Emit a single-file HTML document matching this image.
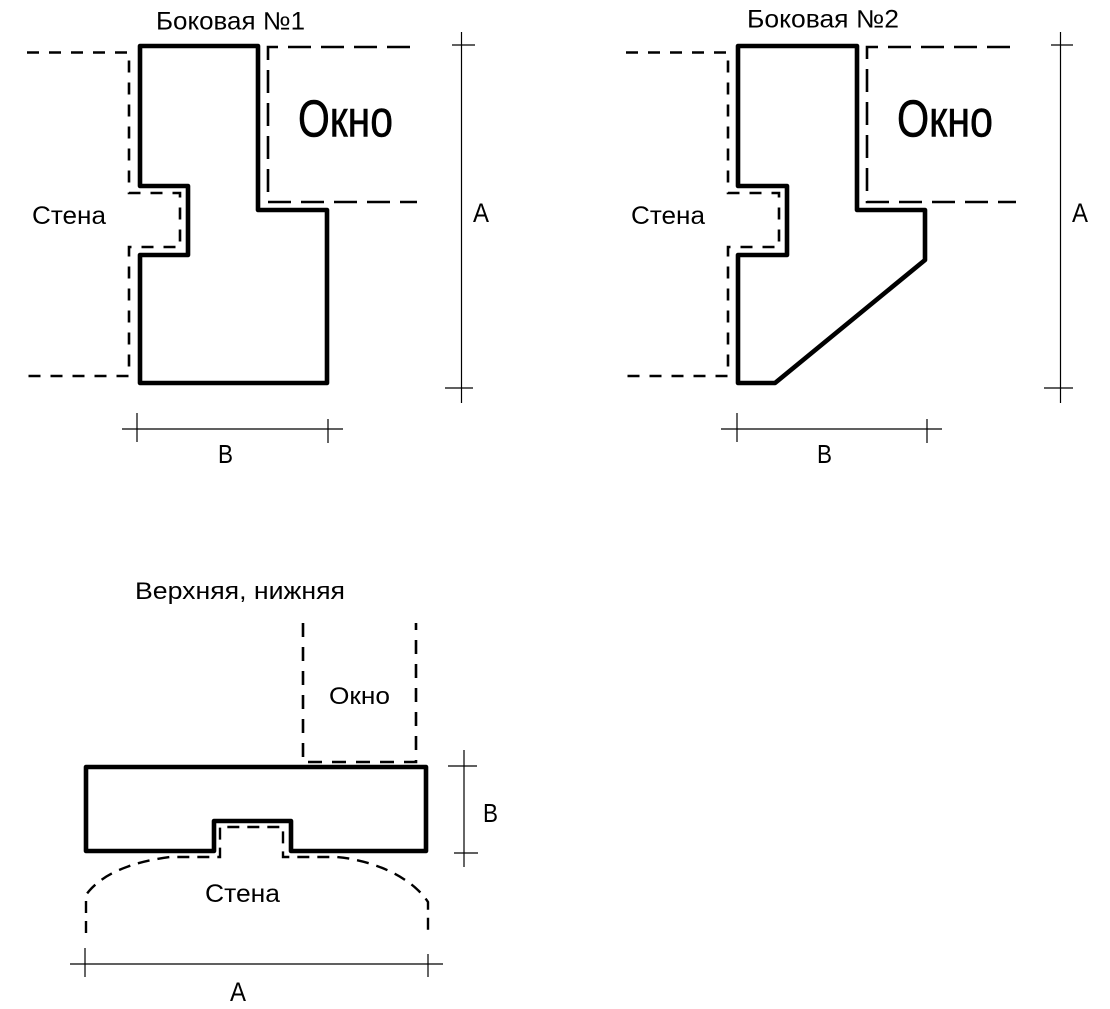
<!DOCTYPE html>
<html>
<head>
<meta charset="utf-8">
<style>
html,body{margin:0;padding:0;background:#fff;}
svg{display:block;}
text{font-family:"Liberation Sans","DejaVu Sans",sans-serif;fill:#000;}
</style>
</head>
<body>
<svg width="1110" height="1009" viewBox="0 0 1110 1009" xmlns="http://www.w3.org/2000/svg">
<rect width="1110" height="1009" fill="#fff"/>

<!-- ===== Panel 1 ===== -->
<text x="156" y="29.5" font-size="25" textLength="149" lengthAdjust="spacingAndGlyphs">Боковая №1</text>
<!-- wall dashed -->
<path d="M27,52.5 H129 V193 H180 V247 H129 V376 H27" fill="none" stroke="#000" stroke-width="2.6" stroke-dasharray="12,10"/>
<!-- window dashed -->
<path d="M418,47 H268 V202 H417" fill="none" stroke="#000" stroke-width="2.6" stroke-dasharray="23,10" stroke-dashoffset="-8"/>
<!-- thick outline -->
<path d="M140,46 H258 V210 H327 V383 H140 V255 H188 V186 H140 Z" fill="none" stroke="#000" stroke-width="4.6" stroke-linejoin="round"/>
<text x="298" y="136.5" font-size="52" textLength="95" lengthAdjust="spacingAndGlyphs" stroke="#000" stroke-width="0.6">Окно</text>
<text x="32" y="224" font-size="25" textLength="74" lengthAdjust="spacingAndGlyphs">Стена</text>
<!-- dim A -->
<g stroke="#000" stroke-width="1.2">
<line x1="461.5" y1="32" x2="461.5" y2="403"/>
<line x1="452" y1="45" x2="475" y2="45"/>
<line x1="445" y1="388" x2="473" y2="388"/>
<!-- dim B -->
<line x1="122" y1="429" x2="343" y2="429"/>
<line x1="137" y1="413" x2="137" y2="442"/>
<line x1="328" y1="419" x2="328" y2="443"/>
</g>
<text x="473" y="222" font-size="27" textLength="16" lengthAdjust="spacingAndGlyphs">A</text>
<text x="218" y="463" font-size="26" textLength="15" lengthAdjust="spacingAndGlyphs">B</text>

<!-- ===== Panel 2 ===== -->
<text x="747" y="27.5" font-size="25" textLength="152" lengthAdjust="spacingAndGlyphs">Боковая №2</text>
<path d="M626,52.5 H728 V193 H779 V247 H728 V376 H626" fill="none" stroke="#000" stroke-width="2.6" stroke-dasharray="12,10"/>
<path d="M1018,47 H867 V202 H1016" fill="none" stroke="#000" stroke-width="2.6" stroke-dasharray="23,10" stroke-dashoffset="-8"/>
<path d="M738,46 H857 V210 H925 V260 L775,383 H738 V255 H787 V186 H738 Z" fill="none" stroke="#000" stroke-width="4.6" stroke-linejoin="round"/>
<text x="897" y="136.5" font-size="52" textLength="96" lengthAdjust="spacingAndGlyphs" stroke="#000" stroke-width="0.6">Окно</text>
<text x="631" y="224" font-size="25" textLength="74" lengthAdjust="spacingAndGlyphs">Стена</text>
<g stroke="#000" stroke-width="1.2">
<line x1="1060.5" y1="32" x2="1060.5" y2="403"/>
<line x1="1051" y1="45" x2="1073" y2="45"/>
<line x1="1044" y1="388" x2="1073" y2="388"/>
<line x1="721" y1="429" x2="942" y2="429"/>
<line x1="737" y1="413" x2="737" y2="442"/>
<line x1="927" y1="419" x2="927" y2="443"/>
</g>
<text x="1072" y="222" font-size="27" textLength="16" lengthAdjust="spacingAndGlyphs">A</text>
<text x="817" y="463" font-size="26" textLength="15" lengthAdjust="spacingAndGlyphs">B</text>

<!-- ===== Panel 3 ===== -->
<text x="135" y="599" font-size="24" textLength="210" lengthAdjust="spacingAndGlyphs">Верхняя, нижняя</text>
<!-- window dashed -->
<path d="M303,623 V762 H416 V623" fill="none" stroke="#000" stroke-width="2.6" stroke-dasharray="14,10"/>
<text x="329" y="704" font-size="24" textLength="61" lengthAdjust="spacingAndGlyphs">Окно</text>
<!-- thick rect -->
<path d="M86,767 H426 V851 H291 V821 H214 V851 H86 Z" fill="none" stroke="#000" stroke-width="4.6" stroke-linejoin="round"/>
<!-- wall dashed -->
<path d="M86,933 V895 C100,875 130,862 170,857 H220 V827 H283 V857 H337 C370,860 410,875 428,902 V933" fill="none" stroke="#000" stroke-width="2.4" stroke-dasharray="12,8"/>
<text x="205" y="902" font-size="25" textLength="75" lengthAdjust="spacingAndGlyphs">Стена</text>
<g stroke="#000" stroke-width="1.2">
<line x1="70" y1="964" x2="443" y2="964"/>
<line x1="85" y1="948" x2="85" y2="977"/>
<line x1="428" y1="954" x2="428" y2="977"/>
<line x1="464" y1="750" x2="464" y2="867"/>
<line x1="448" y1="766" x2="477" y2="766"/>
<line x1="454" y1="853" x2="478" y2="853"/>
</g>
<text x="230" y="1001" font-size="27" textLength="16" lengthAdjust="spacingAndGlyphs">A</text>
<text x="483" y="822" font-size="26" textLength="15" lengthAdjust="spacingAndGlyphs">B</text>
</svg>
</body>
</html>
